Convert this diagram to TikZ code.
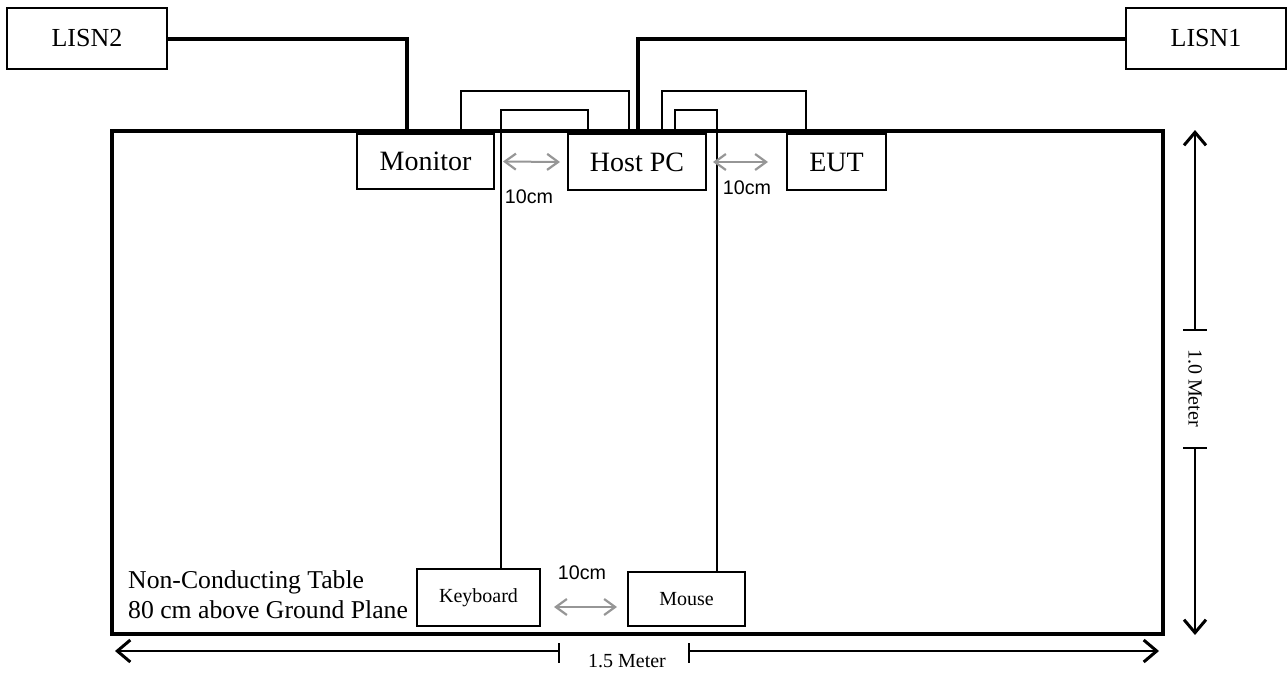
\documentclass[tikz,border=0pt]{standalone}
\usepackage{fontspec}
\setmainfont{Liberation Serif}
\setsansfont{Liberation Sans}
\usetikzlibrary{arrows.meta}
\definecolor{gapgray}{RGB}{150,150,150}

\begin{document}
\begin{tikzpicture}[x=1pt, y=-1pt]
    % Set up styles for the setup drawing
    \tikzstyle{unit} = [draw, line width=2pt, inner sep=0pt, font=\fontsize{28}{32}\selectfont]
    \tikzstyle{lisnbox} = [draw, line width=2.2pt, inner sep=0pt, minimum width=160pt, minimum height=61pt, font=\fontsize{26}{30}\selectfont]
    \tikzstyle{smallunit} = [draw, line width=2pt, inner sep=0pt, font=\fontsize{20}{24}\selectfont]
    \tikzstyle{power} = [line width=4pt]
    \tikzstyle{cable} = [line width=1.8pt]
    \tikzstyle{gap} = [{Straight Barb[length=11pt,width=16pt,line width=2.2pt]}-{Straight Barb[length=11pt,width=16pt,line width=2.2pt]}, gapgray, line width=2pt]
    \tikzstyle{gaplabel} = [font=\sffamily\fontsize{19.7}{22}\selectfont]
    \tikzstyle{dim} = [line width=2pt]
    \tikzstyle{dimarrow} = [dim, -{Straight Barb[length=13pt,width=22pt,line width=3pt]}]

    \useasboundingbox (0,0) rectangle (1287,672);

    % Draw the table
    \draw[line width=3.4pt] (112,131) rectangle (1163,634);
    \node[anchor=west, inner sep=0pt, align=left, font=\fontsize{25.7}{30}\selectfont]
        (tabletext) at (128,595) {Non-Conducting Table\\80 cm above Ground Plane};

    % Place the units
    \node[lisnbox] (lisn2) at (87,38.5) {LISN2};
    \node[lisnbox] (lisn1) at (1206,38.5) {LISN1};
    \node[unit, minimum width=137pt, minimum height=55pt] (monitor) at (425.5,161.5) {Monitor};
    \node[unit, minimum width=138pt, minimum height=56pt] (host) at (637,162) {Host PC};
    \node[unit, minimum width=99pt, minimum height=56pt] (eut) at (836.5,162) {EUT};
    \node[smallunit, minimum width=123pt, minimum height=57pt] (keyboard) at (478.5,597.5) {Keyboard};
    \node[smallunit, minimum width=117pt, minimum height=54pt] (mouse) at (686.5,599) {Mouse};

    % Power lines to the LISNs
    \draw[power] (lisn2.east) -| (monitor.north -| 407,0);
    \draw[power] (lisn1.west) -| (host.north -| 638,0);

    % Signal cables
    \draw[cable] (monitor.north -| 461,0) |- (629,91) -- (host.north -| 629,0);
    \draw[cable] (keyboard.north -| 501,0) |- (588,110) -- (host.north -| 588,0);
    \draw[cable] (host.north -| 662,0) |- (806,91) -- (eut.north -| 806,0);
    \draw[cable] (host.north -| 675,0) |- (717,110) -- (mouse.north -| 717,0);

    % Label the 10cm spacings
    \draw[gap] ([xshift=8pt]monitor.east) -- ([xshift=-7pt]host.west);
    \node[gaplabel] (gap1) at (529,197) {10cm};
    \draw[gap] ([xshift=6pt]host.east) -- ([xshift=-18pt]eut.west);
    \node[gaplabel] (gap2) at (747,188) {10cm};
    \draw[gap] ([xshift=13pt,yshift=-9.5pt]keyboard.east) -- ([xshift=-10pt,yshift=-8pt]mouse.west);
    \node[gaplabel] (gap3) at (582,573) {10cm};

    % Label the table width
    \coordinate (wleft) at (115,651);
    \coordinate (wright) at (1159,651);
    \draw[dimarrow] (559,651) -- (wleft);
    \draw[dimarrow] (689,651) -- (wright);
    \draw[dim] (559,643) -- (559,663);
    \draw[dim] (689,643) -- (689,663);
    \node[font=\fontsize{20}{24}\selectfont] (width) at (627,661) {1.5 Meter};

    % Label the table depth
    \coordinate (dtop) at (1195,130);
    \coordinate (dbottom) at (1195,635);
    \draw[dimarrow] (1195,330) -- (dtop);
    \draw[dimarrow] (1195,448) -- (dbottom);
    \draw[dim] (1183,330) -- (1207,330);
    \draw[dim] (1183,448) -- (1207,448);
    \node[rotate=-90, font=\fontsize{20}{24}\selectfont] (depth) at (1195,388) {1.0 Meter};

\end{tikzpicture}
\end{document}
